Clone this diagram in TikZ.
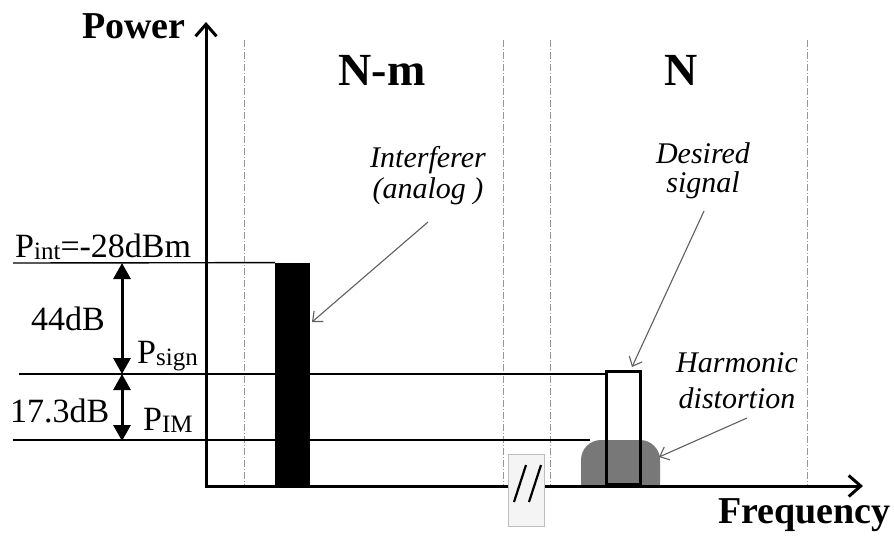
\documentclass[tikz,border=0pt]{standalone}
\usepackage{fontspec}
\setmainfont{Liberation Serif}
\usetikzlibrary{arrows.meta}
\definecolor{guidegray}{RGB}{150,150,150}
\definecolor{notegray}{RGB}{95,95,95}
\definecolor{domegray}{RGB}{120,120,120}
\definecolor{breakfill}{RGB}{244,244,244}
\definecolor{breakline}{RGB}{190,190,190}
% small lowered index used in the power labels
\newcommand\pidx[1]{\raisebox{-2pt}{\fontsize{25}{25}\selectfont #1}}
\begin{document}
\begin{tikzpicture}[x=1pt,y=-1pt,
  axisline/.style={line width=3pt,-{Straight Barb[length=12pt,width=21pt]}},
  level/.style={line width=1.4pt},
  chanedge/.style={guidegray,line width=1pt,dash pattern=on 7pt off 2pt on 1pt off 2pt},
  gaparrow/.style={line width=3pt,{Triangle[length=16pt,width=17pt]}-{Triangle[length=16pt,width=17pt]}},
  note/.style={notegray,line width=1.1pt,-{Straight Barb[length=8pt,width=14pt]}},
  axislabel/.style={font=\bfseries\fontsize{38}{40}\selectfont,inner sep=0pt,anchor=base west},
  chanlabel/.style={font=\bfseries\fontsize{46}{48}\selectfont,inner sep=0pt,anchor=base},
  leftlabel/.style={font=\fontsize{34}{36}\selectfont,inner sep=0pt,anchor=base west},
  notelabel/.style={font=\itshape\fontsize{30}{32}\selectfont,inner sep=0pt,anchor=base},
]
\useasboundingbox (0,0) rectangle (894,539);
\fill[white] (0,0) rectangle (894,539);

% channel boundaries
\foreach \x in {244,503,550,807}
  \draw[chanedge] (\x,40) -- (\x,486);

% channel names
\node[chanlabel] (chNm) at (382,85) {N-m};
\node[chanlabel] (chN) at (681,85) {N};

% spectral components
\node[fill=black,minimum width=35pt,minimum height=223pt,inner sep=0pt,anchor=south west] (intbar) at (275,486) {};
\coordinate (domeL) at (581,486);
\fill[domegray] (domeL) [rounded corners=20pt] -- (581,440) -- (660,440) [sharp corners] -- (660,486) -- cycle;
\coordinate (domeR) at (659,457);

% power levels
\coordinate (Lint) at (13,263);
\coordinate (Lsig) at (19,374);
\coordinate (Lim) at (13,440);
\coordinate (Eim) at (590,440);
\draw[level] (Lint) -- (intbar.north west);
\draw[level] (Lim) -- (Eim);

\node[draw,line width=3pt,minimum width=34pt,minimum height=113pt,inner sep=0pt,anchor=south west] (sig) at (605,486) {};
\draw[level] (Lsig) -- (sig.north west |- Lsig);

% level differences
\coordinate (g1) at (122,263);
\coordinate (g2) at (122,374);
\coordinate (g3) at (122,441);
\draw[gaparrow] (g1) -- (g2);
\draw[gaparrow] (g2) -- (g3);

\node[leftlabel] (pint) at (15,257) {P\pidx{int}=-28dBm};
\node[leftlabel] (d44) at (31,330) {44dB};
\node[leftlabel] (psign) at (137,363) {P\pidx{sign}};
\node[leftlabel] (d173) at (10,422) {17.3dB};
\node[leftlabel] (pim) at (143,430) {P\pidx{IM}};

% axes
\coordinate (O) at (206,487);
\coordinate (ytop) at (206,22);
\coordinate (xend) at (863,486);
\draw[axisline] (O) -- (ytop);
\draw[axisline] (204.5,486) -- (xend);
\node[axislabel] (ylab) at (82,38) {Power};
\node[axislabel] (xlab) at (718,523) {Frequency};

% axis break
\node[draw=breakline,fill=breakfill,line width=0.8pt,minimum width=36pt,minimum height=72pt,inner sep=0pt] (brk) at (526,490) {};
\draw[line width=2.2pt] (526,465) -- (514,502);
\draw[line width=2.2pt] (541,465) -- (529,502);

% annotations
\node[notelabel] (interfA) at (428,167) {Interferer};
\node[notelabel] (interfB) at (428,198) {(analog )};
\coordinate (interfTip) at (312,322);
\draw[note] (428,222) -- (interfTip);

\node[notelabel] (desA) at (703,163) {Desired};
\node[notelabel] (desB) at (703,192) {signal};
\coordinate (sigTip) at (632,367);
\draw[note] (704,211) -- (sigTip);

\node[notelabel] (harmA) at (737,372) {Harmonic};
\node[notelabel] (harmB) at (737,408) {distortion};
\draw[note] (747,418) -- (domeR);
\end{tikzpicture}
\end{document}
